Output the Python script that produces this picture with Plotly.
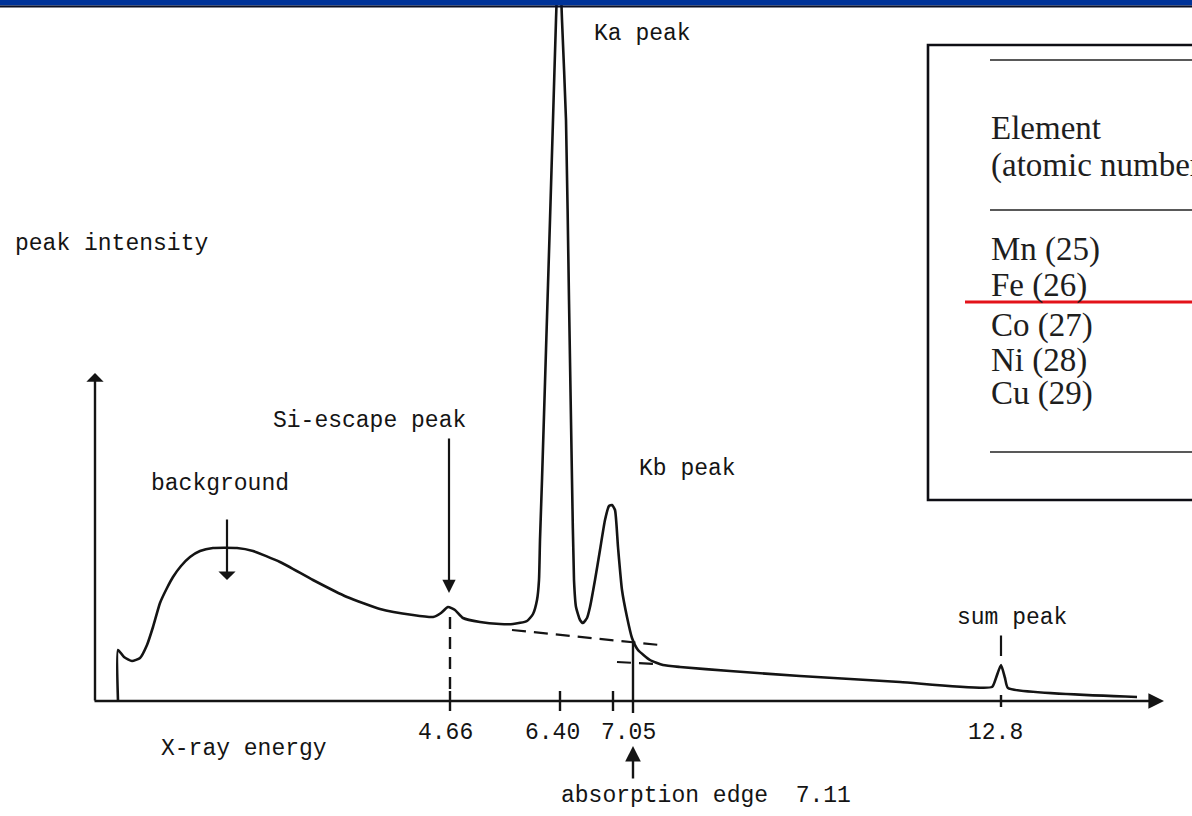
import plotly.graph_objects as go

# ---- Spectrum: detector channel vs. counts ----
channel = [118, 118, 124, 132, 140, 147, 153, 160, 167, 173, 181, 190, 200, 213, 237, 253,
           280, 313, 347, 380, 413, 433, 441, 448, 455, 463, 480, 500, 513, 527, 533, 537,
           539, 540, 542, 546, 550, 553, 556, 559, 562, 566, 569, 572, 574, 576, 580, 583,
           587, 590, 595, 600, 605, 609, 612, 615, 618, 622, 627, 632, 638, 650, 663, 680,
           730, 800, 900, 992, 996, 1001, 1005, 1008, 1137]
counts = [0, 51, 44, 40, 43, 56, 74, 98, 113, 124, 135, 144, 150, 153, 153, 150,
          139, 121, 104, 92, 86, 84, 88, 94, 91, 83, 79, 77, 77, 80, 87, 101,
          121, 161, 221, 351, 481, 581, 681, 760, 681, 581, 401, 221, 121, 94, 81, 78,
          83, 94, 121, 151, 181, 195, 196, 191, 154, 111, 84, 63, 51, 41, 36, 34,
          30, 25, 19, 14, 23, 36, 23, 13, 4]

# Extrapolated background under the K lines, and continuation past the edge
bg_channel = [512, 660]
bg_counts = [71, 56]
edge_bg_channel = [617, 655]
edge_bg_counts = [39, 37]

# Energy markers on the channel axis (keV)
tick_channels = [450, 560, 613, 1001]
tick_labels = ["4.66", "6.40", "7.05", "12.8"]
escape_channel = 450
escape_counts = 84
edge_channel = 633
edge_counts = 58
edge_energy = "7.11"

# Table of elements
table_header = ["Element", "(atomic number)"]
table_rows = ["Mn (25)", "Fe (26)", "Co (27)", "Ni (28)", "Cu (29)"]

INK = "#141414"
MONO = "Liberation Mono, Courier New, monospace"
SERIF = "Liberation Serif, Times New Roman, serif"
Y_TOP = 701          # counts at the top of the canvas
Y_BOT = -115         # counts at the bottom of the canvas


def py(v):
    """canvas row -> counts"""
    return Y_TOP - v


fig = go.Figure()

# spectrum
fig.add_trace(go.Scatter(x=channel, y=counts, mode="lines",
                         line=dict(color=INK, width=2.6, shape="spline", smoothing=0.5),
                         hoverinfo="skip"))
# dashed background extrapolations
for xs, ys in [(bg_channel, bg_counts), (edge_bg_channel, edge_bg_counts)]:
    fig.add_trace(go.Scatter(x=xs, y=ys, mode="lines",
                             line=dict(color=INK, width=2.2, dash="14px,8px"),
                             hoverinfo="skip"))
# dashed drop line from escape peak
fig.add_trace(go.Scatter(x=[escape_channel, escape_channel], y=[escape_counts, 10],
                         mode="lines", line=dict(color=INK, width=2.4, dash="12px,8px"),
                         hoverinfo="skip"))
# solid line at absorption edge
fig.add_trace(go.Scatter(x=[edge_channel, edge_channel], y=[edge_counts, -12],
                         mode="lines", line=dict(color=INK, width=2.4), hoverinfo="skip"))
# tick marks
tx, ty = [], []
for c in tick_channels:
    half = 6 if c > 900 else 10
    tx += [c, c, None]
    ty += [half, -half, None]
fig.add_trace(go.Scatter(x=tx, y=ty, mode="lines", line=dict(color=INK, width=2.4),
                         hoverinfo="skip"))

ann = []


def arrow(x, y, ax, ay, head=2, size=1.0, width=2.4):
    ann.append(dict(x=x, y=y, ax=ax, ay=ay, xref="x", yref="y", axref="x", ayref="y",
                    showarrow=True, arrowhead=head, arrowsize=size, arrowwidth=width,
                    arrowcolor=INK, text=""))


# axes
arrow(1164, 0, 93, 0, head=2, size=1.3)
arrow(95, py(373), 95, -1, head=1, size=1.2)
# pointers
arrow(227, py(580), 227, py(518), head=1, size=1.3, width=2.2)
arrow(449, py(593), 449, py(437), head=2, size=1.2, width=2.2)
arrow(edge_channel, py(746), edge_channel, py(780), head=2, size=1.3, width=2.4)
# sum peak marker
ann.append(dict(x=1001, y=py(656), ax=1001, ay=py(634), xref="x", yref="y", axref="x",
                ayref="y", showarrow=True, arrowhead=0, arrowwidth=2.2, arrowcolor=INK,
                text=""))


def label(text, x, yrow, xanchor="left", size=23, family=MONO, color=INK):
    ann.append(dict(x=x, y=py(yrow), xref="x", yref="y", text=text, showarrow=False,
                    xanchor=xanchor, yanchor="middle",
                    font=dict(family=family, size=size, color=color)))


label("Ka peak", 592, 34)
label("peak intensity", 13, 244)
label("Si-escape peak", 271, 421)
label("background", 149, 484)
label("Kb peak", 637, 469)
label("sum peak", 955, 618)
label("X-ray energy", 159, 749)
label("absorption edge  " + edge_energy, 559, 796)
label_shift = [-5, -8, 15, -6]
for c, t, s in zip(tick_channels, tick_labels, label_shift):
    label(t, c + s, 733, xanchor="center")

# table text
label(table_header[0], 989, 128, size=33, family=SERIF, color="#1e1e1e")
label(table_header[1], 989, 165, size=33, family=SERIF, color="#1e1e1e")
for i, r in enumerate(table_rows):
    label(r, 989, [249, 285, 325, 360, 393][i], size=33, family=SERIF, color="#1e1e1e")

shapes = [
    # table frame and rules
    dict(type="rect", xref="x", yref="y", x0=928, x1=1210, y0=py(500), y1=py(45),
         line=dict(color="#0e0e14", width=2.6), fillcolor="rgba(0,0,0,0)", layer="above"),
    dict(type="line", xref="x", yref="y", x0=990, x1=1210, y0=py(60), y1=py(60),
         line=dict(color="#222", width=1.6)),
    dict(type="line", xref="x", yref="y", x0=990, x1=1210, y0=py(210), y1=py(210),
         line=dict(color="#222", width=1.6)),
    dict(type="line", xref="x", yref="y", x0=990, x1=1210, y0=py(452), y1=py(452),
         line=dict(color="#222", width=1.6)),
    dict(type="line", xref="x", yref="y", x0=965, x1=1210, y0=py(302), y1=py(302),
         line=dict(color="#e3121a", width=2.8)),
    # header band
    dict(type="rect", xref="paper", yref="paper", x0=0, x1=1, y0=1 - 5.5 / 816, y1=1,
         line=dict(width=0), fillcolor="#003399", layer="above"),
    dict(type="rect", xref="paper", yref="paper", x0=0, x1=1, y0=1 - 7.5 / 816,
         y1=1 - 5.5 / 816, line=dict(width=0), fillcolor="#0b0f24", layer="above"),
]

fig.update_layout(
    width=1192, height=816,
    margin=dict(l=0, r=0, t=0, b=0),
    paper_bgcolor="white", plot_bgcolor="white",
    showlegend=False,
    xaxis=dict(range=[0, 1192], visible=False, fixedrange=True),
    yaxis=dict(range=[Y_BOT, Y_TOP], visible=False, fixedrange=True),
    annotations=ann, shapes=shapes,
)

fig.write_html("out.html", config={"displayModeBar": False})
